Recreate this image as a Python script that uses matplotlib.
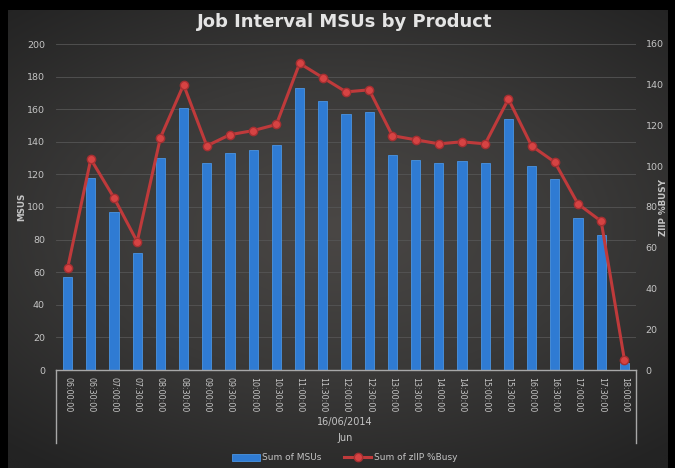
import numpy as np
import matplotlib
matplotlib.use('Agg')
import matplotlib.pyplot as plt
from matplotlib.lines import Line2D
from matplotlib.colors import LinearSegmentedColormap

times = ['06:00:00', '06:30:00', '07:00:00', '07:30:00', '08:00:00', '08:30:00',
         '09:00:00', '09:30:00', '10:00:00', '10:30:00', '11:00:00', '11:30:00',
         '12:00:00', '12:30:00', '13:00:00', '13:30:00', '14:00:00', '14:30:00',
         '15:00:00', '15:30:00', '16:00:00', '16:30:00', '17:00:00', '17:30:00',
         '18:00:00']
msus = [57, 118, 97, 72, 130, 161, 127, 133, 135, 138, 173, 165,
        157, 158, 132, 129, 127, 128, 127, 154, 125, 117, 93, 83, 4]
ziip_busy = [50, 103.5, 84.5, 63, 114, 140, 110, 115.5, 117.5, 120.5, 150.5, 143.5,
             136.5, 137.5, 115, 113, 111, 112, 111, 133, 110, 102, 81.5, 73, 5]

txt = '#c4c4c4'

fig = plt.figure(figsize=(6.75, 4.68), dpi=100, facecolor='black')

# dark radial gradient behind the chart
bg = fig.add_axes([8 / 675, 0, 660 / 675, 458 / 468])
gx, gy = np.meshgrid(np.linspace(-1, 1, 300), np.linspace(-1, 1, 200))
r = np.clip(np.sqrt((gx * 0.85) ** 2 + (gy + 0.05) ** 2), 0, 1.3)
shade = LinearSegmentedColormap.from_list('shade', ['#4a4745', '#3a3938', '#232323'])
bg.imshow(r, cmap=shade, vmin=0, vmax=1.3, aspect='auto',
          extent=[0, 1, 0, 1], interpolation='bicubic')
bg.set_axis_off()

ax = fig.add_axes([56 / 675, 98 / 468, 580 / 675, 326 / 468])
ax.set_facecolor('none')
x = np.arange(len(times))
ax.bar(x, msus, width=0.4, color='#2f7bd3', edgecolor='#4a94e2', linewidth=0.6,
       label='Sum of MSUs', zorder=2)
ax.set_xlim(-0.5, len(times) - 0.5)
ax.set_ylim(0, 200)
ax.set_yticks(range(0, 201, 20))
ax.grid(axis='y', color='#555555', linewidth=0.6, zorder=0)
ax.set_axisbelow(True)
ax.set_xticks(x)
ax.set_xticklabels(times, rotation=-90, fontsize=5.8, color=txt)
ax.tick_params(axis='x', length=0, pad=5)
ax.tick_params(axis='y', length=0, labelsize=6.8, labelcolor=txt, pad=8)
for s in ['top', 'left', 'right']:
    ax.spines[s].set_visible(False)
ax.spines['bottom'].set_color('#a8a8a8')
ax.spines['bottom'].set_linewidth(1.0)
fig.text(22 / 675, 1 - 207 / 468, 'MSUS', rotation=90, ha='center', va='center',
         fontsize=6.3, color=txt, fontweight='bold')

ax2 = ax.twinx()
ax2.plot(x, ziip_busy, color='#bf3a3b', linewidth=2.2, marker='o', markersize=6,
         markerfacecolor='#d64343', markeredgecolor='#a52f31', label='Sum of zIIP %Busy', zorder=3)
ax2.set_ylim(0, 160)
ax2.set_yticks(range(0, 161, 20))
ax2.tick_params(axis='y', length=0, labelsize=6.8, labelcolor=txt, pad=7)
for s in ['top', 'left', 'right', 'bottom']:
    ax2.spines[s].set_visible(False)
fig.text(663 / 675, 1 - 208 / 468, 'ZIIP %BUSY', rotation=90, ha='center', va='center',
         fontsize=6.3, color=txt, fontweight='bold')

# multi-level category axis frame
for xa in (0, 1):
    ax.add_line(Line2D([xa, xa], [0, -73 / 326], transform=ax.transAxes,
                       color='#a8a8a8', linewidth=1.0, clip_on=False))
fig.text(345 / 675, 1 - 422 / 468, '16/06/2014', ha='center', va='center', fontsize=7, color=txt)
fig.text(345 / 675, 1 - 438 / 468, 'Jun', ha='center', va='center', fontsize=7, color=txt)

fig.text(345 / 675, 1 - 22 / 468, 'Job Interval MSUs by Product', ha='center', va='center',
         fontsize=13, fontweight='bold', color='#e4e4e4')

h1, l1 = ax.get_legend_handles_labels()
h2, l2 = ax2.get_legend_handles_labels()
fig.legend(h1 + h2, l1 + l2, loc='center', bbox_to_anchor=(345 / 675, 1 - 458 / 468),
           ncol=2, frameon=False, fontsize=6.5, labelcolor=txt, handlelength=3,
           columnspacing=2.5, handletextpad=0.3)

fig.savefig('out.png', dpi=100, facecolor=fig.get_facecolor())
